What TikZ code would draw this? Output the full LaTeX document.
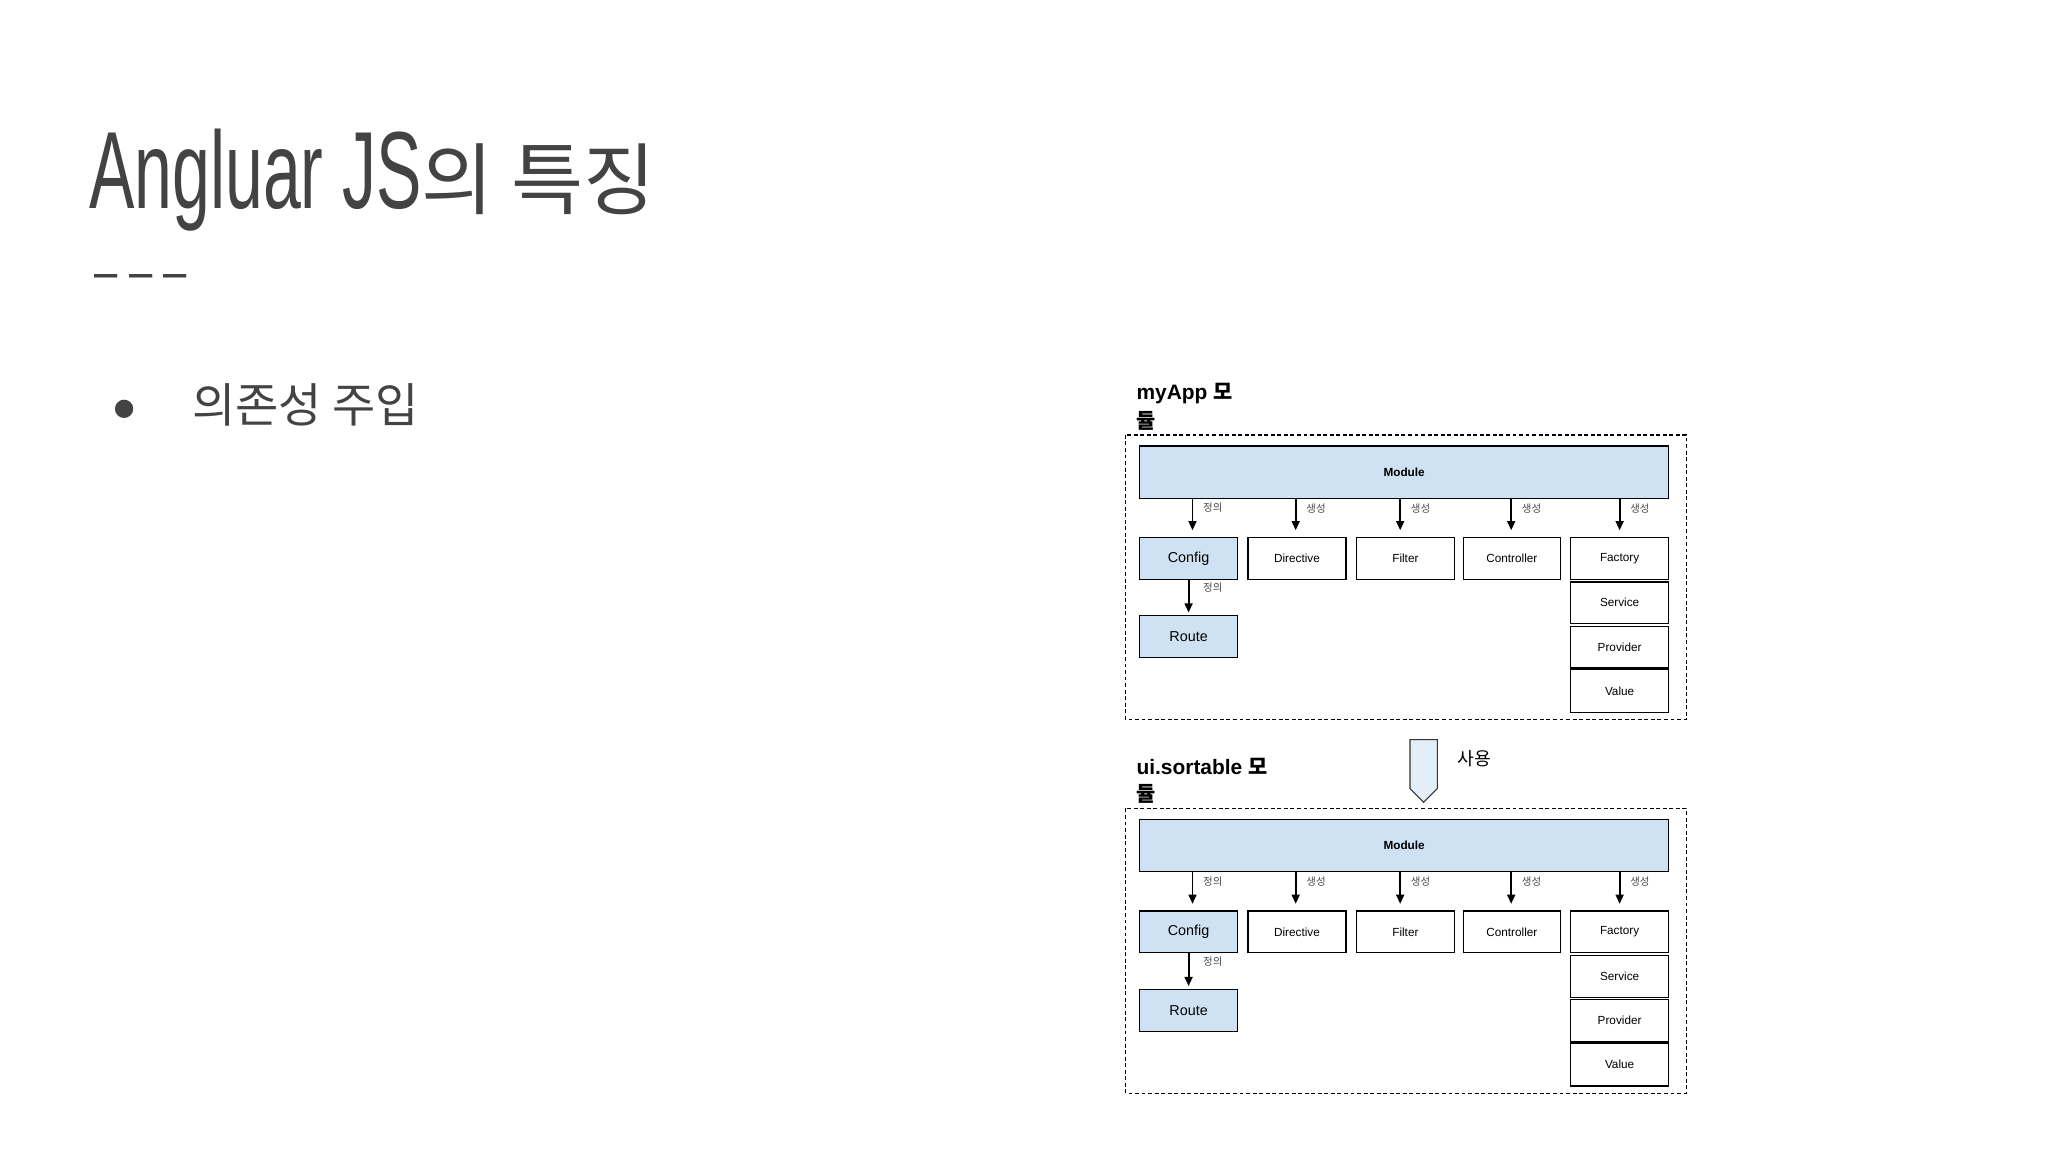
\documentclass[tikz,border=0pt]{standalone}
\usepackage{fontspec}
\setmainfont{Liberation Sans}
\newfontfamily\kr{Noto Sans CJK KR}
\usetikzlibrary{arrows.meta,shapes.arrows}
\definecolor{tgray}{HTML}{434343}
\definecolor{mblue}{HTML}{CFE2F3}
\tikzset{
  bx/.style={draw=black,line width=1pt,minimum height=32pt,anchor=north west,inner sep=0},
  lbl/.style={font=\kr\fontsize{8}{9}\selectfont,text=black!70,anchor=west,inner sep=0},
  ar/.style={-{Triangle[length=7pt,width=6pt]},line width=1.4pt},
}
\newcommand{\diag}[3]{% yoffset, prefix, title
\begin{scope}[yshift=-#1pt]
\node[font=\bfseries\fontsize{17}{18}\selectfont,anchor=west,inner sep=0] (#2t) at (870,301) {myApp\ \kr 모};
\end{scope}}
\begin{document}
\begin{tikzpicture}[x=1pt,y=-1pt]
\useasboundingbox[fill=white] (0,0) rectangle (1568,882);
\node[anchor=base west,inner sep=0,text=tgray] (title) at (68,160)
  {\scalebox{0.62}[1]{\fontsize{84}{90}\selectfont Angluar JS}{\kr\fontsize{60}{66}\selectfont 의 특징}};
\node[anchor=west,inner sep=0,text=tgray,font=\fontsize{40}{40}\selectfont] (dash) at (72,216) {\scalebox{0.8}[1]{– – –}};
\node[circle,fill=tgray,minimum size=14pt,inner sep=0] (bul) at (95,313) {};
\node[anchor=west,inner sep=0,text=tgray,font=\kr\fontsize{36}{40}\selectfont] (dep) at (147,310) {의존성 주입};
\foreach \off/\p/\t in {0/a/myApp,286/b/ui.sortable}{
\begin{scope}[yshift=-\off pt]
\node[font=\bfseries\fontsize{16}{18}\selectfont,anchor=west,inner sep=0] (\p t) at (870,301) {\t\ {\kr 모}};
\node[font=\kr\bfseries\fontsize{16}{18}\selectfont,anchor=west,inner sep=0] (\p t2) at (870,322) {듈};
\draw[dashed,line width=0.9pt,dash pattern=on 3pt off 2pt] (862,333) rectangle (1291,551);
\node[bx,fill=mblue,minimum width=405pt,minimum height=40pt,font=\bfseries\fontsize{9}{10}\selectfont] (\p mod) at (872,341) {Module};
\node[bx,fill=mblue,minimum width=75pt,font=\fontsize{11}{12}\selectfont] (\p cfg) at (872,411) {Config};
\node[bx,minimum width=75pt,font=\fontsize{9}{10}\selectfont] (\p dir) at (955,411) {Directive};
\node[bx,minimum width=75pt,font=\fontsize{9}{10}\selectfont] (\p fil) at (1038,411) {Filter};
\node[bx,minimum width=74pt,font=\fontsize{9}{10}\selectfont] (\p con) at (1120,411) {Controller};
\node[bx,minimum width=75pt,font=\fontsize{9}{10}\selectfont] (\p fac) at (1202,411) {Factory};
\node[bx,minimum width=75pt,font=\fontsize{9}{10}\selectfont] (\p ser) at (1202,445) {Service};
\node[bx,minimum width=75pt,font=\fontsize{9}{10}\selectfont] (\p pro) at (1202,479) {Provider};
\node[bx,minimum width=75pt,minimum height=33pt,font=\fontsize{9}{10}\selectfont] (\p val) at (1202,512) {Value};
\node[bx,fill=mblue,minimum width=75pt,font=\fontsize{11}{12}\selectfont] (\p rou) at (872,471) {Route};
\foreach \x/\n/\l in {913/cfg/정의,992/dir/생성,1072/fil/생성,1157/con/생성,1240/fac/생성}{
  \coordinate (\p s\n) at (\x,381);
  \coordinate (\p e\n) at (\x,406);
  \draw[ar] (\p s\n) -- (\p e\n);
  \node[lbl] (\p l\n) at (\x+8,389) {\l};
}
\coordinate (\p sr) at (910,444);
\coordinate (\p er) at (910,469);
\draw[ar] (\p sr) -- (\p er);
\node[lbl] (\p lr) at (921,450) {정의};
\end{scope}}
\node[single arrow,draw=black!80,fill=mblue!60,line width=0.8pt,shape border rotate=270,minimum height=48pt,minimum width=21pt,single arrow head extend=0pt,single arrow tip angle=90,inner sep=0] (use) at (1090,585) {};
\node[font=\kr\fontsize{14}{16}\selectfont,anchor=west,inner sep=0] (usel) at (1116,581) {사용};
\end{tikzpicture}
\end{document}
